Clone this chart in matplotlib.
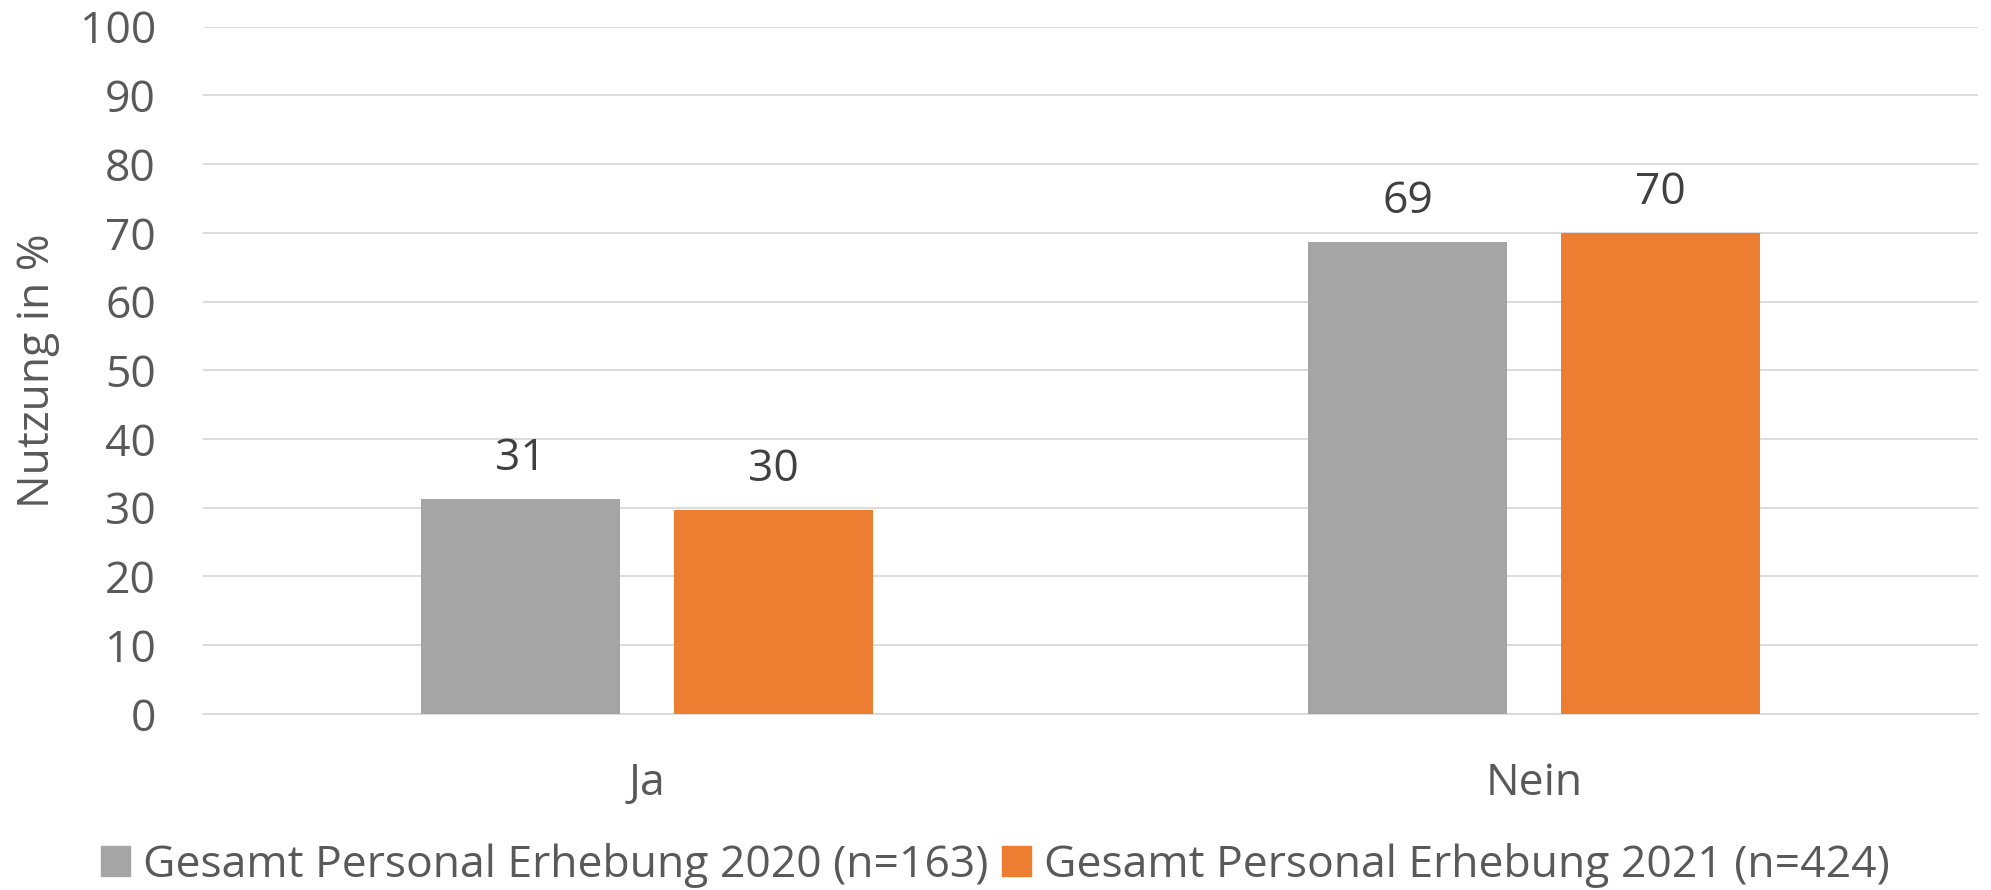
import numpy as np
import matplotlib
matplotlib.use("Agg")
import matplotlib.pyplot as plt
from matplotlib.patches import Patch

plt.rcParams["font.family"] = ["Open Sans", "DejaVu Sans"]

categories = ["Ja", "Nein"]
series_names = ["Gesamt Personal Erhebung 2020 (n=163)",
                "Gesamt Personal Erhebung 2021 (n=424)"]
values_2020 = [31.2, 68.7]
values_2021 = [29.7, 70.0]
yticks = [0, 10, 20, 30, 40, 50, 60, 70, 80, 90, 100]

colors = ["#a5a5a5", "#ed7d31"]
text_col = "#595959"
fs = 32

fig = plt.figure(figsize=(19.91, 8.90), dpi=100)
ax = fig.add_axes([0.102, 0.198, 0.8915, 0.772])

x = np.arange(len(categories))
width = 0.224
offset = 0.1425
for vals, off, col in [(values_2020, -offset, colors[0]), (values_2021, offset, colors[1])]:
    bars = ax.bar(x + off, vals, width, color=col, zorder=3)
    for b, v in zip(bars, vals):
        ax.annotate(f"{v:.0f}", (b.get_x() + b.get_width() / 2, v),
                    xytext=(0, 13), textcoords="offset points",
                    ha="center", va="bottom", fontsize=fs, color="#404040")

ax.set_xlim(-0.5, 1.5)
ax.set_ylim(0, 100)
ax.set_yticks(yticks)
ax.set_xticks(x)
ax.set_xticklabels(categories)
ax.tick_params(axis="y", length=0, pad=34, labelsize=fs, labelcolor=text_col)
ax.tick_params(axis="x", length=0, pad=34, labelsize=fs, labelcolor=text_col)
ax.grid(axis="y", color="#d9d9d9", linewidth=1.3, zorder=0)
for s in ["top", "right", "left"]:
    ax.spines[s].set_visible(False)
ax.spines["bottom"].set_color("#d9d9d9")
ax.spines["bottom"].set_linewidth(1.3)
ax.set_ylabel("Nutzung in %", fontsize=fs, color=text_col, labelpad=14)

handles = [Patch(color=c, label=n) for c, n in zip(colors, series_names)]
fig.legend(handles=handles, loc="center", bbox_to_anchor=(0.5, 0.028), ncol=2,
           frameon=False, fontsize=fs, labelcolor=text_col,
           handlelength=0.65, handleheight=0.65, handletextpad=0.3, columnspacing=0.3)

fig.savefig("out.png", dpi=100)
